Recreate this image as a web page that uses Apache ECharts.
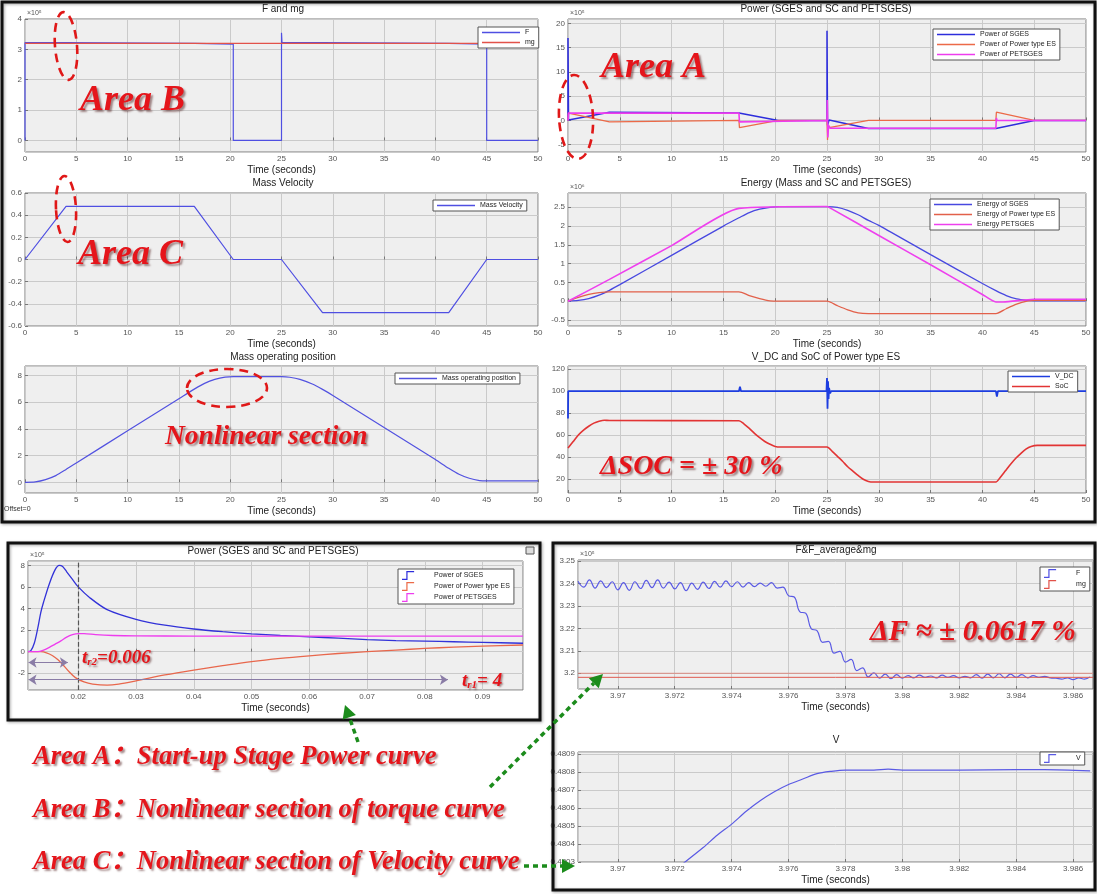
<!DOCTYPE html>
<html>
<head>
<meta charset="utf-8">
<script src="https://cdn.jsdelivr.net/npm/echarts@6/dist/echarts.min.js"></script>
<style>
html, body { margin: 0; padding: 0; background: #ffffff; }
#chart { width: 1097px; height: 894px; }
</style>
</head>
<body>
<div id="chart"></div>
<script>
// ---- data: [time (s), value] ----
// F and mg (x10^5 N)
var forceF = [[0, 0], [0, 3.22], [4, 3.22], [4, 3.2], [16.5, 3.2], [16.5, 3.17], [20.3, 3.17], [20.3, 0], [25, 0], [25, 3.55], [25.05, 3.22], [29, 3.22], [29, 3.2], [41.3, 3.2], [41.3, 3.17], [45, 3.17], [45, 0], [50, 0]];
var forceMg = [[0, 3.2], [50, 3.2]];

// Power (x10^5 W)
var powerSges = [[0, 0], [0, 17], [0.05, 0.1], [4, 1.7], [4.1, 1.52], [16.5, 1.52], [16.6, 1.35], [20.3, 0], [25, 0], [25, 18.5], [25.05, -1], [25.2, 0.1], [29, -1.65], [41.3, -1.65], [41.35, -1.8], [45, 0], [50, 0]];
var powerEs = [[0, 0], [0.05, 1.5], [4, -0.3], [4.1, 0], [16.5, 0], [16.55, -1.5], [20.3, 0], [25, 0], [25.05, -4], [25.1, -1], [25.2, -1.5], [29, 0], [41.3, 0], [41.35, 1.7], [45, 0], [50, 0]];
var powerPet = [[0, 0], [0.05, 1.5], [16.5, 1.5], [16.55, -0.3], [16.6, 0], [25, 0], [25.03, 4.2], [25.08, -3.5], [25.15, -1.0], [25.3, -1.6], [41.3, -1.6], [41.35, 0.5], [41.4, 0], [50, 0]];

// Mass velocity (m/s)
var velocity = [[0, 0], [4, 0.48], [16.5, 0.48], [20.3, 0], [25, 0], [29, -0.48], [41.3, -0.48], [45, 0], [50, 0]];

// Energy (x10^6 J)
var energySges = [[0, 0], [1, 0.02], [2, 0.07], [3, 0.16], [4, 0.29], [5, 0.44], [10, 1.22], [15, 2.0], [16.5, 2.22], [17.5, 2.36], [18.5, 2.45], [19.5, 2.5], [20.3, 2.52], [25, 2.52], [26, 2.5], [27, 2.42], [28, 2.3], [29, 2.15], [30, 2.02], [35, 1.24], [40, 0.47], [41.3, 0.28], [42.3, 0.15], [43.3, 0.06], [44.3, 0.02], [45, 0.01], [50, 0.01]];
var energyEs = [[0, 0], [1, 0.1], [2, 0.18], [3, 0.23], [4, 0.25], [16.5, 0.25], [17.5, 0.15], [18.5, 0.07], [19.5, 0.01], [20.3, 0], [25, 0], [26, -0.12], [27, -0.23], [28, -0.31], [29, -0.33], [41.3, -0.33], [42.3, -0.2], [43.3, -0.08], [44.3, 0.0], [45, 0.02], [50, 0.02]];
var energyPet = [[0, 0], [4, 0.58], [10, 1.48], [16.5, 2.47], [25, 2.52], [25.5, 2.45], [30, 1.75], [35, 0.97], [40, 0.18], [41.3, -0.02], [42, -0.02], [44, 0.03], [45, 0.05], [50, 0.05]];

// Mass operating position (m)
var position = [[0, 0], [1, 0.03], [2, 0.2], [3, 0.5], [4, 0.96], [5, 1.45], [10, 3.85], [15, 6.25], [16.5, 6.97], [17.5, 7.4], [18.5, 7.7], [19.5, 7.87], [20.3, 7.9], [25, 7.9], [25.8, 7.86], [26.8, 7.7], [28, 7.35], [29, 6.95], [30, 6.5], [35, 4.1], [40, 1.7], [41.3, 1.05], [42.3, 0.6], [43.3, 0.3], [44.3, 0.13], [45, 0.1], [50, 0.1]];

// V_DC (V) and SoC (%)
var voltageDc = [[0, 75], [0.02, 100], [16.5, 100], [16.6, 104], [16.7, 100], [24.95, 100], [25, 112], [25.05, 84], [25.1, 109], [25.15, 93], [25.2, 103], [25.3, 98], [25.4, 100], [41.3, 100], [41.4, 95], [41.5, 100], [50, 100]];
var stateOfCharge = [[0, 48], [0.5, 54], [1, 60], [1.5, 64.5], [2, 68], [2.5, 70.8], [3, 72.5], [3.5, 73.5], [4, 73.2], [16.5, 73], [17, 70], [17.5, 66], [18, 61.5], [18.5, 57.5], [19, 54], [19.5, 51.5], [20, 49.5], [20.5, 49], [25, 49], [25.5, 45], [26, 40.5], [26.5, 36], [27, 31], [27.5, 27], [28, 23], [28.5, 19.5], [29, 17.5], [29.5, 17], [41.3, 17], [41.7, 21], [42.2, 27], [42.7, 33], [43.2, 38.5], [43.7, 43], [44.2, 47], [44.7, 49.5], [45.3, 50.5], [50, 50.5]];

// start-up zoom of power (x10^5 W)
var startSges = [[0.0113, 0], [0.0118, 0.1], [0.0124, 0.8], [0.013, 2.2], [0.0135, 3.6], [0.014, 4.6], [0.015, 6.3], [0.016, 7.6], [0.0167, 8.0], [0.0173, 7.9], [0.018, 7.4], [0.019, 6.7], [0.02, 6.0], [0.022, 5.0], [0.025, 3.9], [0.03, 3.0], [0.035, 2.45], [0.04, 2.1], [0.045, 1.85], [0.05, 1.65], [0.055, 1.5], [0.06, 1.38], [0.065, 1.25], [0.07, 1.12], [0.075, 1.03], [0.08, 0.98], [0.085, 0.92], [0.09, 0.86], [0.097, 0.78]];
var startEs = [[0.0113, 0], [0.0135, 0], [0.0145, -0.1], [0.0155, -0.35], [0.0165, -0.75], [0.0175, -1.3], [0.0185, -1.9], [0.0195, -2.4], [0.021, -2.8], [0.0225, -3.0], [0.025, -3.1], [0.027, -3.0], [0.03, -2.7], [0.035, -2.15], [0.04, -1.7], [0.045, -1.3], [0.05, -0.92], [0.055, -0.62], [0.06, -0.38], [0.065, -0.17], [0.07, 0.0], [0.075, 0.15], [0.08, 0.3], [0.085, 0.42], [0.09, 0.52], [0.097, 0.62]];
var startPet = [[0.0113, 0], [0.013, 0.0], [0.014, 0.15], [0.015, 0.4], [0.016, 0.7], [0.017, 1.0], [0.018, 1.35], [0.019, 1.58], [0.02, 1.68], [0.021, 1.68], [0.023, 1.58], [0.026, 1.5], [0.03, 1.46], [0.04, 1.45], [0.06, 1.45], [0.08, 1.45], [0.097, 1.45]];
var riseMarks = { tr2: 0.0182, tr2Level: -1.0, tr1End: 0.084, tr1Level: -2.6, start: 0.0114 };

// F ripple near 4 s (x10^5 N)
var rippleF = [[3.9686, 3.2410], [3.9688, 3.2384], [3.9690, 3.2416], [3.9692, 3.2380], [3.9694, 3.2412], [3.9696, 3.2382], [3.9698, 3.2408], [3.9700, 3.2372], [3.9702, 3.2404], [3.9704, 3.2370], [3.9706, 3.2408], [3.9708, 3.2378], [3.9710, 3.2414], [3.9712, 3.2382], [3.9714, 3.2416], [3.9716, 3.2380], [3.9718, 3.2406], [3.9720, 3.2376], [3.9722, 3.2404], [3.9724, 3.2368], [3.9726, 3.2402], [3.9728, 3.2374], [3.9730, 3.2406], [3.9732, 3.2378], [3.9734, 3.2410], [3.9736, 3.2384], [3.9738, 3.2412], [3.9740, 3.2386], [3.9742, 3.2408], [3.9744, 3.2384], [3.9746, 3.2404], [3.9748, 3.2386], [3.9750, 3.2402], [3.9752, 3.2388], [3.9754, 3.2404], [3.9756, 3.2380], [3.9758, 3.2384], [3.9760, 3.2346], [3.9762, 3.2340], [3.9764, 3.2274], [3.9766, 3.2268], [3.9768, 3.2198], [3.9770, 3.2190], [3.9772, 3.2138], [3.9774, 3.2142], [3.9776, 3.2090], [3.9778, 3.2098], [3.9780, 3.2050], [3.9782, 3.2062], [3.9784, 3.2012], [3.9786, 3.2024], [3.9788, 3.1984], [3.9790, 3.2002], [3.9792, 3.1978], [3.9794, 3.1996], [3.9796, 3.1976], [3.9798, 3.1994], [3.9800, 3.1978], [3.9802, 3.1990], [3.9804, 3.1980], [3.9806, 3.1992], [3.9808, 3.1982], [3.9810, 3.1988], [3.9812, 3.1980], [3.9814, 3.1992], [3.9816, 3.1982], [3.9818, 3.1990], [3.9820, 3.1980], [3.9822, 3.1986], [3.9824, 3.1980], [3.9826, 3.1994], [3.9828, 3.1978], [3.9830, 3.1996], [3.9832, 3.1980], [3.9834, 3.1998], [3.9836, 3.1980], [3.9838, 3.1996], [3.9840, 3.1982], [3.9842, 3.1994], [3.9844, 3.1980], [3.9846, 3.1990], [3.9848, 3.1982], [3.9850, 3.1986], [3.9852, 3.1980], [3.9854, 3.1978], [3.9856, 3.1974], [3.9858, 3.1980], [3.9860, 3.1972], [3.9862, 3.1980], [3.9864, 3.1974], [3.9866, 3.1984]];
var rippleMg = [[3.9686, 3.1982], [3.9867, 3.1982]];
var rippleAvg = [[3.9686, 3.2], [3.9867, 3.2]];

// V ripple near 4 s (m/s)
var rippleV = [[3.9722, 0.48028], [3.9730, 0.48038], [3.9735, 0.48045], [3.9740, 0.48051], [3.9745, 0.48058], [3.9750, 0.48064], [3.9755, 0.48069], [3.9760, 0.48073], [3.9765, 0.48076], [3.9770, 0.48079], [3.9775, 0.480803], [3.9780, 0.48081], [3.9790, 0.48081], [3.9795, 0.480815], [3.9800, 0.48081], [3.9820, 0.48081], [3.9840, 0.480812], [3.9850, 0.480812], [3.9866, 0.480805]];

// ---- layout ----
var FONT = 'Liberation Sans';
var SERIF = '"Liberation Serif", "Noto Sans CJK SC", serif';
var BLUE = '#4f4fe2';
var RED = '#e2524a';

// [left, top, width, height]
var grids = [
    [25, 19, 513, 133],
    [568, 19, 518, 133],
    [25, 193, 513, 133],
    [568, 193, 518, 133],
    [25, 366, 513, 127],
    [568, 366, 518, 127],
    [28, 561, 495, 129],
    [578, 560, 515, 129],
    [578, 752, 515, 110]
];

var titles = [
    ['F and mg', 283, 4],
    ['Power (SGES and SC and PETSGES)', 826, 4],
    ['Mass Velocity', 283, 178],
    ['Energy (Mass and SC and PETSGES)', 826, 178],
    ['Mass operating position', 283, 352],
    ['V_DC and SoC of Power type ES', 826, 352],
    ['Power (SGES and SC and PETSGES)', 273, 546],
    ['F&F_average&mg', 836, 545],
    ['V', 836, 735]
];

function isStep(v, step) {
    var r = v / step;
    return Math.abs(r - Math.round(r)) < 1e-6;
}

function valueAxis(gridIndex, min, max, step, extra) {
    var axis = {
        type: 'value',
        gridIndex: gridIndex,
        min: min,
        max: max,
        minInterval: step,
        maxInterval: step,
        splitNumber: Math.max(1, Math.round((max - min) / step)),
        axisLine: { show: false },
        axisTick: { show: true, inside: true, length: 3, lineStyle: { color: '#777' } },
        axisLabel: {
            fontSize: 8, color: '#555', fontFamily: FONT, margin: 3,
            showMinLabel: isStep(min, step), showMaxLabel: isStep(max, step)
        },
        splitLine: { show: true, lineStyle: { color: '#cacaca', width: 1 } }
    };
    return Object.assign(axis, extra || {});
}

function timeAxis(gridIndex, min, max, step) {
    return valueAxis(gridIndex, min, max, step, {
        name: 'Time (seconds)',
        nameLocation: 'middle',
        nameGap: 13,
        nameTextStyle: { fontSize: 10, color: '#222', fontFamily: FONT }
    });
}

function scaledAxis(gridIndex, min, max, step, exponent) {
    return valueAxis(gridIndex, min, max, step, {
        name: exponent,
        nameLocation: 'end',
        nameGap: 2,
        nameTextStyle: { fontSize: 7, color: '#555', fontFamily: FONT, align: 'left', padding: [0, 0, 0, 2] }
    });
}

function line(name, gi, data, color, width, extra) {
    var s = {
        type: 'line',
        name: name,
        xAxisIndex: gi,
        yAxisIndex: gi,
        data: data,
        showSymbol: false,
        symbol: 'none',
        animation: false,
        lineStyle: { color: color, width: width || 1.2 },
        itemStyle: { color: color },
        z: 3
    };
    return Object.assign(s, extra || {});
}

var STEP_ICON = 'path://M0,9 L5,9 L5,0 L14,0 L14,1.4 L6.4,1.4 L6.4,10.4 L0,10.4 Z';

function legendAt(left, top, names, step) {
    return {
        left: left,
        top: top,
        orient: 'vertical',
        data: names,
        icon: step ? STEP_ICON : 'rect',
        itemWidth: step ? 14 : 38,
        itemHeight: step ? 9 : 1.5,
        itemGap: step ? 2 : 3,
        selectedMode: false,
        backgroundColor: '#ffffff',
        borderColor: '#555',
        borderWidth: 1,
        borderRadius: 0,
        padding: [2, 4, 2, 4],
        textStyle: { fontSize: 7, color: '#222', fontFamily: FONT, padding: step ? [0, 0, 0, 14] : 0 }
    };
}

function redText(text, x, y, size) {
    return {
        type: 'text',
        x: x,
        y: y,
        z: 100,
        style: {
            text: text,
            font: 'italic bold ' + size + 'px ' + SERIF,
            fill: '#e5151b',
            textVerticalAlign: 'middle',
            textShadowColor: 'rgba(60,0,0,0.45)',
            textShadowBlur: 2,
            textShadowOffsetX: 2,
            textShadowOffsetY: 2
        }
    };
}

function dashedEllipse(cx, cy, rx, ry, rot) {
    return {
        type: 'ellipse',
        x: cx,
        y: cy,
        rotation: rot || 0,
        z: 100,
        shape: { cx: 0, cy: 0, rx: rx, ry: ry },
        style: { fill: 'none', stroke: '#e01818', lineWidth: 2.6, lineDash: [9, 6] }
    };
}

function greenArrow(x1, y1, x2, y2) {
    var ang = Math.atan2(y2 - y1, x2 - x1);
    var len = 13, half = 7;
    var bx = x2 - len * Math.cos(ang), by = y2 - len * Math.sin(ang);
    var px = -Math.sin(ang) * half, py = Math.cos(ang) * half;
    return [
        { type: 'line', z: 100, shape: { x1: x1, y1: y1, x2: bx, y2: by },
          style: { stroke: '#1c8c1c', lineWidth: 3.5, lineDash: [5, 4] } },
        { type: 'polygon', z: 100, shape: { points: [[x2, y2], [bx + px, by + py], [bx - px, by - py]] },
          style: { fill: '#1c8c1c' } }
    ];
}

function box(x, y, w, h) {
    return {
        type: 'rect', z: 90, shape: { x: x, y: y, width: w, height: h },
        style: { fill: 'none', stroke: '#111', lineWidth: 3, shadowColor: 'rgba(0,0,0,0.35)', shadowBlur: 3, shadowOffsetX: 1, shadowOffsetY: 1 }
    };
}

var xAxes = [
    timeAxis(0, 0, 50, 5),
    timeAxis(1, 0, 50, 5),
    timeAxis(2, 0, 50, 5),
    timeAxis(3, 0, 50, 5),
    timeAxis(4, 0, 50, 5),
    timeAxis(5, 0, 50, 5),
    timeAxis(6, 0.0113, 0.097, 0.01),
    timeAxis(7, 3.9686, 3.9867, 0.002),
    timeAxis(8, 3.9686, 3.9867, 0.002)
];

var yAxes = [
    scaledAxis(0, -0.38, 4, 1, '×10⁵'),
    scaledAxis(1, -6.5, 20.9, 5, '×10⁵'),
    valueAxis(2, -0.6, 0.6, 0.2),
    scaledAxis(3, -0.66, 2.88, 0.5, '×10⁶'),
    valueAxis(4, -0.8, 8.7, 2),
    valueAxis(5, 7, 123, 20),
    scaledAxis(6, -3.55, 8.4, 2, '×10⁵'),
    scaledAxis(7, 3.193, 3.2505, 0.01, '×10⁵'),
    valueAxis(8, 0.4803, 0.48091, 0.0001)
];

var series = [
    line('F', 0, forceF, BLUE, 1.2),
    line('mg', 0, forceMg, RED, 1.2),

    line('Power of SGES', 1, powerSges, '#2d2ddc', 1.5),
    line('Power of Power type ES', 1, powerEs, '#ec6a48', 1.3),
    line('Power of PETSGES', 1, powerPet, '#ee3cee', 1.6),

    line('Mass Velocity', 2, velocity, BLUE, 1.2),

    line('Energy of SGES', 3, energySges, '#4848e0', 1.3, { smooth: 0.25 }),
    line('Energy of Power type ES', 3, energyEs, '#e2604a', 1.3, { smooth: 0.25 }),
    line('Energy PETSGES', 3, energyPet, '#ee40ee', 1.6, { smooth: 0.2 }),

    line('Mass operating position', 4, position, '#5252e0', 1.2, { smooth: 0.25 }),

    line('V_DC', 5, voltageDc, '#1d3de0', 1.8),
    line('SoC', 5, stateOfCharge, '#e23434', 1.6, { smooth: 0.25 }),

    line('Power of SGES', 6, startSges, '#3232d8', 1.3, {
        smooth: 0.3,
        markLine: {
            silent: true, symbol: 'none', animation: false,
            label: { show: false },
            lineStyle: { type: 'dashed', color: '#555', width: 1.2 },
            data: [{ xAxis: riseMarks.tr2 }]
        }
    }),
    line('Power of Power type ES', 6, startEs, '#e8674c', 1.3, {
        smooth: 0.3,
        markLine: {
            silent: true, animation: false,
            symbol: ['arrow', 'arrow'], symbolSize: [8, 8],
            label: { show: false },
            lineStyle: { type: 'solid', color: '#8a7ca6', width: 1.2 },
            itemStyle: { color: '#6b2fa0' },
            data: [
                [{ coord: [riseMarks.start, riseMarks.tr2Level] }, { coord: [riseMarks.tr2, riseMarks.tr2Level] }],
                [{ coord: [riseMarks.start, riseMarks.tr1Level] }, { coord: [riseMarks.tr1End, riseMarks.tr1Level] }]
            ]
        }
    }),
    line('Power of PETSGES', 6, startPet, '#ee3cee', 1.3, { smooth: 0.3 }),

    line('F', 7, rippleF, '#5a5ae4', 1.2, { smooth: 0.45 }),
    line('mg', 7, rippleMg, '#e05a50', 1),
    line('F_average', 7, rippleAvg, '#e07a70', 0.8),

    line('V', 8, rippleV, '#5a5ae4', 1.2, { smooth: 0.3 })
];

var legends = [
    legendAt(478, 27, ['F', 'mg']),
    legendAt(933, 29, ['Power of SGES', 'Power of Power type ES', 'Power of PETSGES']),
    legendAt(433, 200, ['Mass Velocity']),
    legendAt(930, 199, ['Energy of SGES', 'Energy of Power type ES', 'Energy PETSGES']),
    legendAt(395, 373, ['Mass operating position']),
    legendAt(1008, 371, ['V_DC', 'SoC']),
    legendAt(398, 569, ['Power of SGES', 'Power of Power type ES', 'Power of PETSGES'], true),
    legendAt(1040, 567, ['F', 'mg'], true),
    legendAt(1040, 752, ['V'], true)
];

var graphics = [
    box(2, 2, 1093, 520),
    box(8, 543, 532, 177),
    box(553, 543, 542, 347),
    { type: 'rect', z: 95, shape: { x: 526, y: 547, width: 8, height: 7 }, style: { fill: '#ddd', stroke: '#555', lineWidth: 1 } },
    { type: 'text', x: 4, y: 509, z: 100, style: { text: 'Offset=0', font: '7px ' + FONT, fill: '#333', textVerticalAlign: 'middle' } },

    redText('Area B', 80, 101, 36),
    redText('Area A', 601, 68, 36),
    redText('Area C', 78, 255, 36),
    redText('Nonlinear section', 165, 437, 27.5),
    redText('ΔSOC = ± 30 %', 600, 467, 28),
    redText('ΔF ≈ ± 0.0617 %', 870, 632, 29.5),
    redText('Area A：Start-up Stage Power curve', 33, 757, 26.5),
    redText('Area B：Nonlinear section of torque curve', 33, 810, 26.5),
    redText('Area C：Nonlinear section of Velocity curve', 33, 862, 26.5),
    {
        type: 'text', x: 82, y: 658, z: 100,
        style: {
            text: '{a|t}{s|r2}{a|=0.006}',
            fill: '#e5151b',
            textVerticalAlign: 'middle',
            textShadowColor: 'rgba(60,0,0,0.45)', textShadowBlur: 2, textShadowOffsetX: 1.5, textShadowOffsetY: 1.5,
            rich: {
                a: { font: 'italic bold 19px ' + SERIF, fill: '#e5151b' },
                s: { font: 'italic bold 11px ' + SERIF, fill: '#e5151b', padding: [9, 0, 0, 0] }
            }
        }
    },
    {
        type: 'text', x: 462, y: 681, z: 100,
        style: {
            text: '{a|t}{s|r1}{a|= 4}',
            fill: '#e5151b',
            textVerticalAlign: 'middle',
            textShadowColor: 'rgba(60,0,0,0.45)', textShadowBlur: 2, textShadowOffsetX: 1.5, textShadowOffsetY: 1.5,
            rich: {
                a: { font: 'italic bold 19px ' + SERIF, fill: '#e5151b' },
                s: { font: 'italic bold 11px ' + SERIF, fill: '#e5151b', padding: [9, 0, 0, 0] }
            }
        }
    },

    dashedEllipse(66, 46, 11, 34, 0.08),
    dashedEllipse(576, 117, 17, 42, 0.05),
    dashedEllipse(66, 209, 10, 33, 0.05),
    dashedEllipse(227, 388, 40, 19, 0)
].concat(
    greenArrow(358, 742, 345, 705),
    greenArrow(490, 787, 603, 674),
    greenArrow(524, 866, 575, 866)
);

var chart = echarts.init(document.getElementById('chart'), null, { renderer: 'canvas' });
chart.setOption({
    backgroundColor: '#ffffff',
    animation: false,
    title: titles.map(function (t) {
        return {
            text: t[0], left: t[1], top: t[2], textAlign: 'center', padding: 0,
            textStyle: { fontSize: 10, fontWeight: 'normal', color: '#222', fontFamily: FONT }
        };
    }),
    grid: grids.map(function (g) {
        return {
            left: g[0], top: g[1], width: g[2], height: g[3], containLabel: false,
            show: true, backgroundColor: '#efefef', borderColor: '#7a7a7a', borderWidth: 1
        };
    }),
    legend: legends,
    xAxis: xAxes,
    yAxis: yAxes,
    series: series,
    graphic: graphics
});
</script>
</body>
</html>
